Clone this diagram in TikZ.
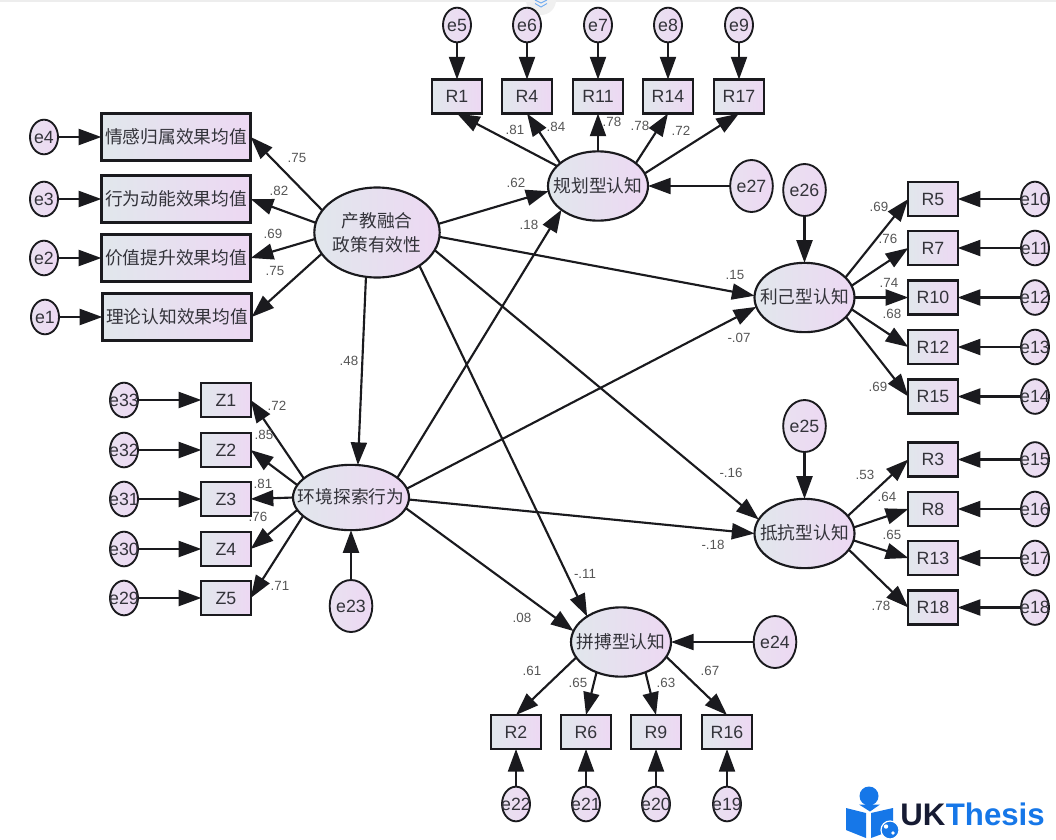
\documentclass[tikz,border=0pt]{standalone}
\usepackage{fontspec}
\setmainfont{Liberation Sans}
\newfontfamily\cjk{Noto Sans CJK SC}
\usetikzlibrary{arrows.meta,shapes.geometric}
\definecolor{lc}{HTML}{1A1A1E}
\definecolor{tc}{HTML}{33333A}
\definecolor{lab}{HTML}{555555}
\definecolor{fl}{HTML}{E1E7EC}
\definecolor{fr}{HTML}{EDD8F3}
\definecolor{el}{HTML}{E9E1F0}
\definecolor{ukblue}{HTML}{1677E8}
\definecolor{uknavy}{HTML}{161B33}
\newcommand\ctr[1]{\makebox[0pt]{\smash{\raisebox{-.36em}{#1}}}}
\newcommand\zh[1]{\ctr{\cjk #1}}
\tikzset{
  shade base/.style={draw=lc,left color=fl,right color=fr,outer sep=0pt,inner sep=0pt,text=tc,font=\fontsize{13.3}{16}\selectfont},
  errsm/.style={shade base,left color=el,ellipse,line width=1.4pt,minimum width=21pt,minimum height=26pt},
  errbg/.style={shade base,left color=el,ellipse,line width=1.4pt,minimum width=32pt,minimum height=39pt},
  latent/.style={shade base,ellipse,line width=1.6pt,minimum width=75pt,minimum height=52pt},
  obsbox/.style={shade base,rectangle,line width=1.7pt,minimum width=37pt,minimum height=25.5pt},
  widebox/.style={shade base,rectangle,line width=1.8pt,minimum width=112pt,minimum height=35.5pt},
  arr/.style={draw=lc,line width=1.6pt,-{Triangle[length=17pt,width=12pt]}},
  val/.style={text=lab,font=\fontsize{10}{11}\selectfont,inner sep=0pt}
}
\begin{document}
\begin{tikzpicture}[x=0.75pt,y=-0.75pt]
\useasboundingbox (0,0) rectangle (1056,839);
\fill[white] (0,0) rectangle (1056,839);
\fill[black!7] (0,0) rectangle (1056,1.5);
\fill[black!6] (541,0) circle (15);
\draw[ukblue!60,line width=.7pt] (535,0) -- (541,3) -- (547,0) (535,3.5) -- (541,7) -- (547,3.5);

% latent variables
\node[shade base,ellipse,line width=1.6pt,minimum width=93pt,minimum height=67.5pt,align=center,font=\fontsize{13.3}{18}\cjk\selectfont] (JY) at (377,232.5) {产教融合\\政策有效性};
\node[shade base,ellipse,line width=1.6pt,minimum width=87pt,minimum height=49pt] (HJ) at (351,497.5) {\zh{环境探索行为}};
\node[latent] (GH) at (598,186) {\zh{规划型认知}};
\node[latent] (LJ) at (804.5,297.5) {\zh{利己型认知}};
\node[latent] (DK) at (804.5,533.5) {\zh{抵抗型认知}};
\node[latent] (PB) at (621,642) {\zh{拼搏型认知}};

% wide boxes
\node[widebox] (QG) at (176,137) {\cjk 情感归属效果均值};
\node[widebox] (XW) at (176,199) {\cjk 行为动能效果均值};
\node[widebox] (JZ) at (176,258) {\cjk 价值提升效果均值};
\node[widebox] (LL) at (177,317) {\cjk 理论认知效果均值};

% observed boxes
\foreach \n/\x/\y in {R1/457/96.5,R4/527/96.5,R11/598/96.5,R14/668/96.5,R17/739/96.5,
  R5/933/199,R7/933/248,R10/933/297.5,R12/933/347,R15/933/396.5,
  R3/933/459.5,R8/933/509,R13/933/558,R18/933/607.5,
  R2/516/732,R6/586/732,R9/656/732,R16/727/732,
  Z1/226/400,Z2/226/450,Z3/226/499,Z4/226/549,Z5/226/598}
  \node[obsbox] (\n) at (\x,\y) {\ctr{\n}};

% small error terms
\foreach \n/\x/\y in {e4/44/137,e3/44/199,e2/44/258,e1/45/317,
  e5/457/25,e6/527/25,e7/598/25,e8/668/25,e9/739/25,
  e10/1035/199,e11/1035/248,e12/1035/297.5,e13/1035/347,e14/1035/396.5,
  e15/1035/459.5,e16/1035/509,e17/1035/558,e18/1035/607.5,
  e22/516/804,e21/586/804,e20/656/804,e19/727/804,
  e33/124/400,e32/124/450,e31/124/499,e30/124/549,e29/124/598}
  \node[errsm] (\n) at (\x,\y) {\ctr{\n}};

% large error terms
\foreach \n/\x/\y in {e27/751.5/186,e26/804.5/190,e25/804.5/426,e24/775/642,e23/351/606}
  \node[errbg] (\n) at (\x,\y) {\ctr{\n}};

% error arrows
\foreach \a/\b in {e4/QG,e3/XW,e2/JZ,e1/LL,e33/Z1,e32/Z2,e31/Z3,e30/Z4,e29/Z5}
  \draw[arr] (\a.east) -- (\b.west);
\foreach \a/\b in {e5/R1,e6/R4,e7/R11,e8/R14,e9/R17}
  \draw[arr] (\a.south) -- (\b.north);
\foreach \a/\b in {e10/R5,e11/R7,e12/R10,e13/R12,e14/R15,e15/R3,e16/R8,e17/R13,e18/R18}
  \draw[arr] (\a.west) -- (\b.east);
\foreach \a/\b in {e22/R2,e21/R6,e20/R9,e19/R16}
  \draw[arr] (\a.north) -- (\b.south);
\draw[arr] (e27.west) -- (GH.east);
\draw[arr] (e26.south) -- (LJ.north);
\draw[arr] (e25.south) -- (DK.north);
\draw[arr] (e24.west) -- (PB.east);
\draw[arr] (e23.north) -- (HJ.south);

% loadings
\foreach \a/\b in {158/QG,171/XW,186/JZ,201/LL}
  \draw[arr] (JY.\a) -- (\b.east);
\foreach \a/\b in {158/Z1,167/Z2,180/Z3,193/Z4,201/Z5}
  \draw[arr] (HJ.\a) -- (\b.east);
\foreach \a/\b in {154/R1,149/R4,90/R11,31/R14,15/R17}
  \draw[arr] (GH.\a) -- (\b.south);
\foreach \a/\b in {26/R5,14/R7,0/R10,346/R12,335/R15}
  \draw[arr] (LJ.\a) -- (\b.west);
\foreach \a/\b in {22/R3,7/R8,352/R13,340/R18}
  \draw[arr] (DK.\a) -- (\b.west);
\foreach \a/\b in {199/R2,231/R6,309/R9,342/R16}
  \draw[arr] (PB.\a) -- (\b.north);

% structural paths
\draw[arr] (JY.8) -- (GH.186);
\draw[arr] (JY.356) -- (LJ.178);
\draw[arr] (JY.343) -- (DK.163);
\draw[arr] (JY.322) -- (PB.143);
\draw[arr] (JY.256) -- (HJ.78.5);
\draw[arr] (HJ.23.6) -- (GH.213);
\draw[arr] (HJ.9) -- (LJ.191);
\draw[arr] (HJ.358) -- (DK.180);
\draw[arr] (HJ.349) -- (PB.167);

% values
\node[val] (v1) at (297,158) {.75};
\node[val] (v2) at (279,191) {.82};
\node[val] (v3) at (273,234) {.69};
\node[val] (v4) at (275,271) {.75};
\node[val] (v5) at (349,361) {.48};
\node[val] (v6) at (277,406) {.72};
\node[val] (v7) at (264,435) {.85};
\node[val] (v8) at (263,484) {.81};
\node[val] (v9) at (258,517) {.76};
\node[val] (v10) at (280,586) {.71};
\node[val] (v11) at (515,130) {.81};
\node[val] (v12) at (556,127) {.84};
\node[val] (v13) at (612,122) {.78};
\node[val] (v14) at (640,126) {.78};
\node[val] (v15) at (681,131) {.72};
\node[val] (v16) at (516,183) {.62};
\node[val] (v17) at (529,225) {.18};
\node[val] (v18) at (735,275) {.15};
\node[val] (v19) at (739,338) {-.07};
\node[val] (v20) at (879,207) {.69};
\node[val] (v21) at (888,239) {.76};
\node[val] (v22) at (889,283) {.74};
\node[val] (v23) at (892,314) {.68};
\node[val] (v24) at (878,387) {.69};
\node[val] (v25) at (865,475) {.53};
\node[val] (v26) at (887,497) {.64};
\node[val] (v27) at (892,535) {.65};
\node[val] (v28) at (881,606) {.78};
\node[val] (v29) at (731,473) {-.16};
\node[val] (v30) at (713,545) {-.18};
\node[val] (v31) at (585,574) {-.11};
\node[val] (v32) at (522,618) {.08};
\node[val] (v33) at (532,671) {.61};
\node[val] (v34) at (578,683) {.65};
\node[val] (v35) at (666,683) {.63};
\node[val] (v36) at (710,671) {.67};

% logo
\fill[ukblue] (869,796) circle (9.5);
\fill[ukblue] (859,804.5) -- (880,804.5) -- (870,811.5) -- cycle;
\fill[ukblue] (846,808) -- (866,813) -- (866,838) -- (846,830) -- cycle;
\fill[ukblue] (871,813) -- (893,808) -- (893,830) -- (871,838) -- cycle;
\fill[ukblue,draw=white,line width=.9pt] (890,830) circle (9);
\fill[white] (886,826.5) circle (2.2) (893,833) circle (1.8);
\node[anchor=base west,inner sep=0pt,font=\fontsize{23.4}{28}\bfseries\selectfont,text=uknavy] (uk) at (900,825) {UK};
\node[anchor=base west,inner sep=0pt,font=\fontsize{23.4}{28}\bfseries\selectfont,text=ukblue] (th) at (uk.base east) {Thesis};
\end{tikzpicture}
\end{document}
